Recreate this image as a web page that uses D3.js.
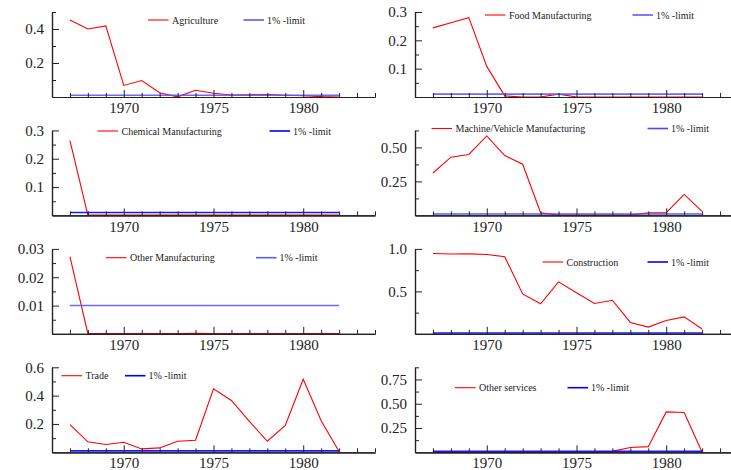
<!DOCTYPE html>
<html><head><meta charset="utf-8">
<script src="https://cdn.jsdelivr.net/npm/d3@7/dist/d3.min.js"></script>
<style>
body{margin:0;background:#fff;}
svg{display:block;}
svg text{font-family:'Liberation Serif','Times New Roman','DejaVu Serif',serif !important;}
</style>
</head><body>
<script>
// ---------- data ----------
const years = [1967,1968,1969,1970,1971,1972,1973,1974,1975,1976,1977,1978,1979,1980,1981,1982];
const agriculture   = [0.453,0.400,0.418,0.068,0.097,0.025,0.001,0.040,0.022,0.012,0.013,0.015,0.010,0.007,0.002,0.000];
const food          = [0.244,0.262,0.280,0.108,0.004,0.000,0.000,0.010,0.000,0.000,0.000,0.000,0.000,0.000,0.000,0.000];
const chemical      = [0.264,0.001,0.001,0.001,0.001,0.001,0.001,0.001,0.001,0.001,0.001,0.001,0.001,0.001,0.001,0.001];
const machine       = [0.312,0.428,0.448,0.584,0.440,0.376,0.020,0.002,0.002,0.002,0.002,0.002,0.020,0.020,0.154,0.030];
const otherManuf    = [0.0273,0.0001,0.0001,0.0001,0.0001,0.0001,0.0001,0.0002,0.0001,0.0001,0.0001,0.0001,0.0001,0.0001,0.0001,0.0001];
const construction  = [0.946,0.940,0.942,0.935,0.908,0.470,0.354,0.612,0.485,0.358,0.396,0.135,0.080,0.158,0.200,0.058];
const trade         = [0.195,0.074,0.055,0.071,0.024,0.031,0.078,0.085,0.448,0.366,0.218,0.078,0.190,0.516,0.223,0.005];
const otherServices = [0.000,0.000,0.000,0.000,0.000,0.000,0.000,0.000,0.000,0.000,0.010,0.050,0.058,0.416,0.410,0.000];
const limitValue = 0.01;
const limitLabel = "1% -limit";
const seriesNames = ["Agriculture","Food Manufacturing","Chemical Manufacturing","Machine/Vehicle Manufacturing",
                     "Other Manufacturing","Construction","Trade","Other services"];
const seriesValues = [agriculture, food, chemical, machine, otherManuf, construction, trade, otherServices];
const yMax   = [0.5, 0.3, 0.3, 0.625, 0.03, 1.0, 0.6, 0.875];
const yMajorTicks = [[0.2,0.4],[0.1,0.2,0.3],[0.1,0.2,0.3],[0.25,0.5],[0.01,0.02,0.03],[0.5,1.0],[0.2,0.4,0.6],[0.25,0.5,0.75]];
const yMinorTicks = [[0.1,0.3,0.5],[0.05,0.15,0.25],[0.05,0.15,0.25],[0.125,0.375,0.625],[0.005,0.015,0.025],[0.25,0.75],[0.1,0.3,0.5],[0.125,0.375,0.625,0.875]];
const yTickFormats = [".1f",".1f",".1f",".2f",".2f",".1f",".1f",".2f"];
const xMajorTicks = [1970,1975,1980];
const xMinorTicks = [1967,1968,1969,1971,1972,1973,1974,1976,1977,1978,1979,1981,1982,1983,1984];

// ---------- layout ----------
const W = 731, H = 470;
const colX = [52, 415];
const xSpan = 323;            // 1966 -> 1984
const rowZero = [97, 215.4, 333.9, 452.3];
const plotH = 85;
// legend: [red line x, y, limit line x]
const legendPos = [[148,20,243.5],[485,15,632.5],[97.5,131,269.5],[431.5,128.5,647.5],
                   [106,257.7,256],[542.5,262,647.5],[61.5,375.7,125],[455,387.7,567.5]];
const limitColors = ["#5a5aff","#5a5aff","#0000ff","#4848ff","#5a5aff","#0000ff","#0000ff","#0000ff"];
const serif = "'Liberation Serif','Times New Roman','DejaVu Serif',serif";

const svg = d3.select("body").append("svg").attr("width", W).attr("height", H);

seriesValues.forEach((vals, i) => {
  const col = i % 2, row = Math.floor(i / 2);
  const x = d3.scaleLinear().domain([1966, 1984]).range([colX[col], colX[col] + xSpan]);
  const y = d3.scaleLinear().domain([0, yMax[i]]).range([rowZero[row], rowZero[row] - plotH]);
  const g = svg.append("g");

  // series line
  const line = d3.line().x((d, k) => x(years[k])).y(d => y(d));
  g.append("path").datum(vals).attr("d", line)
    .attr("fill", "none").attr("stroke", "#ff0000").attr("stroke-width", 1.1);
  // limit line
  g.append("path").datum(years.map(() => limitValue)).attr("d", line)
    .attr("fill", "none").attr("stroke", limitColors[i]).attr("stroke-width", 1.6).attr("opacity", 0.9);

  // x axis
  const xMinor = d3.axisBottom(x).tickValues(xMinorTicks).tickSizeInner(-4).tickSizeOuter(0).tickFormat("");
  const xMajor = d3.axisBottom(x).tickValues(xMajorTicks).tickSizeInner(-7).tickSizeOuter(0)
    .tickPadding(row === 3 ? 4.6 : 5.6).tickFormat(d3.format("d"));
  [xMinor, xMajor].forEach(ax => {
    const a = g.append("g").attr("transform", `translate(0,${rowZero[row]})`).call(ax);
    a.attr("font-family", null);
    a.select(".domain").attr("stroke", "#222").attr("stroke-width", 1.2);
    a.selectAll(".tick line").attr("stroke", "#222").attr("stroke-width", 1);
    a.selectAll("text").style("font-family", serif).attr("font-size", 15).attr("fill", "#222");
  });

  // y axis
  const yMinor = d3.axisLeft(y).tickValues(yMinorTicks[i].filter(v => v <= yMax[i] + 1e-9))
    .tickSizeInner(-4).tickSizeOuter(0).tickFormat("");
  const yMajor = d3.axisLeft(y).tickValues(yMajorTicks[i]).tickSizeInner(-7).tickSizeOuter(0)
    .tickPadding(8).tickFormat(d3.format(yTickFormats[i]));
  [yMinor, yMajor].forEach(ax => {
    const a = g.append("g").attr("transform", `translate(${colX[col]},0)`).call(ax);
    a.attr("font-family", null);
    a.select(".domain").attr("stroke", "#222").attr("stroke-width", 1.2);
    a.selectAll(".tick line").attr("stroke", "#222").attr("stroke-width", 1);
    a.selectAll("text").style("font-family", serif).attr("font-size", 15).attr("fill", "#222");
  });

  // legend
  const [lx, ly, bx] = legendPos[i];
  const leg = g.append("g").style("font-family", serif)
    .attr("font-size", 10).attr("fill", "#222");
  leg.append("line").attr("x1", lx).attr("x2", lx + 20.5).attr("y1", ly).attr("y2", ly)
    .attr("stroke", "#ff0000").attr("stroke-width", 1.1);
  leg.append("text").attr("x", lx + 24).attr("y", ly).attr("dy", "0.35em").text(seriesNames[i]);
  leg.append("line").attr("x1", bx).attr("x2", bx + 20.5).attr("y1", ly).attr("y2", ly)
    .attr("stroke", limitColors[i]).attr("stroke-width", 1.6);
  leg.append("text").attr("x", bx + 23.5).attr("y", ly).attr("dy", "0.35em").text(limitLabel);
});
</script>
</body></html>
